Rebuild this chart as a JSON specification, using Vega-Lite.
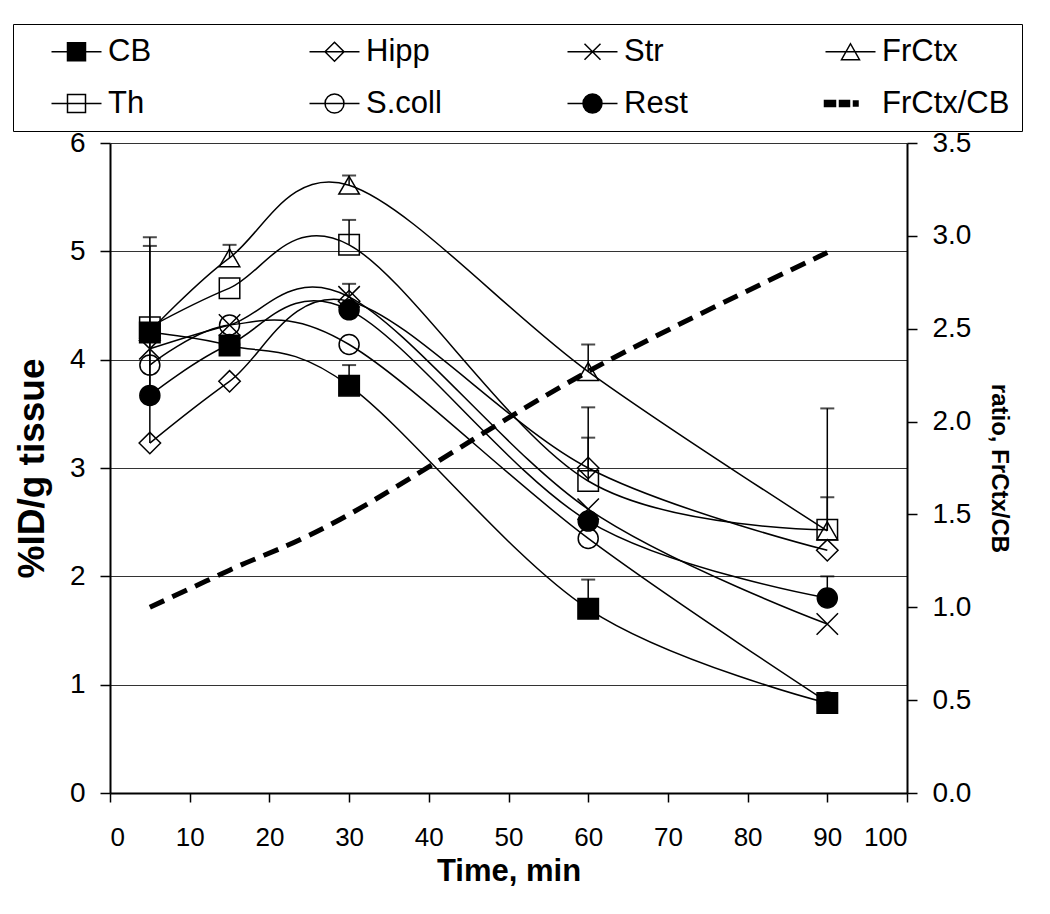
{
  "$schema": "https://vega.github.io/schema/vega-lite/v6.json",
  "width": 797,
  "height": 650,
  "autosize": {"type": "none"},
  "padding": {"left": 110, "top": 143, "right": 143, "bottom": 121},
  "background": "white",
  "config": {
    "view": {"stroke": null},
    "font": "Liberation Sans",
    "axis": {"labelColor": "black", "titleColor": "black", "domainColor": "black", "tickColor": "black", "labelFont": "Liberation Sans", "titleFont": "Liberation Sans"}
  },
  "datasets": {
    "pts": [
      {"series": "CB", "t": 5, "v": 4.25}, {"series": "CB", "t": 15, "v": 4.13}, {"series": "CB", "t": 30, "v": 3.76}, {"series": "CB", "t": 60, "v": 1.70}, {"series": "CB", "t": 90, "v": 0.83},
      {"series": "Hipp", "t": 5, "v": 3.23}, {"series": "Hipp", "t": 15, "v": 3.80}, {"series": "Hipp", "t": 30, "v": 4.54}, {"series": "Hipp", "t": 60, "v": 3.00}, {"series": "Hipp", "t": 90, "v": 2.24},
      {"series": "Str", "t": 5, "v": 4.10}, {"series": "Str", "t": 15, "v": 4.32}, {"series": "Str", "t": 30, "v": 4.58}, {"series": "Str", "t": 60, "v": 2.62}, {"series": "Str", "t": 90, "v": 1.56},
      {"series": "FrCtx", "t": 5, "v": 4.26}, {"series": "FrCtx", "t": 15, "v": 4.94}, {"series": "FrCtx", "t": 30, "v": 5.61}, {"series": "FrCtx", "t": 60, "v": 3.89}, {"series": "FrCtx", "t": 90, "v": 2.42},
      {"series": "Th", "t": 5, "v": 4.30}, {"series": "Th", "t": 15, "v": 4.66}, {"series": "Th", "t": 30, "v": 5.06}, {"series": "Th", "t": 60, "v": 2.88}, {"series": "Th", "t": 90, "v": 2.43},
      {"series": "S.coll", "t": 5, "v": 3.95}, {"series": "S.coll", "t": 15, "v": 4.32}, {"series": "S.coll", "t": 30, "v": 4.14}, {"series": "S.coll", "t": 60, "v": 2.35}, {"series": "S.coll", "t": 90, "v": 0.84},
      {"series": "Rest", "t": 5, "v": 3.67}, {"series": "Rest", "t": 15, "v": 4.14}, {"series": "Rest", "t": 30, "v": 4.46}, {"series": "Rest", "t": 60, "v": 2.51}, {"series": "Rest", "t": 90, "v": 1.80}
    ],
    "err": [
      {"series": "Hipp", "t": 5, "v": 3.23, "hi": 5.13},
      {"series": "Rest", "t": 5, "v": 3.67, "hi": 5.05},
      {"series": "FrCtx", "t": 15, "v": 4.94, "hi": 5.06},
      {"series": "FrCtx", "t": 30, "v": 5.61, "hi": 5.70},
      {"series": "Th", "t": 30, "v": 5.06, "hi": 5.29},
      {"series": "Str", "t": 30, "v": 4.58, "hi": 4.70},
      {"series": "CB", "t": 30, "v": 3.76, "hi": 3.95},
      {"series": "FrCtx", "t": 60, "v": 3.89, "hi": 4.14},
      {"series": "Hipp", "t": 60, "v": 3.00, "hi": 3.56},
      {"series": "Th", "t": 60, "v": 2.88, "hi": 3.28},
      {"series": "CB", "t": 60, "v": 1.70, "hi": 1.97},
      {"series": "Th", "t": 90, "v": 2.43, "hi": 3.55},
      {"series": "FrCtx", "t": 90, "v": 2.42, "hi": 2.73},
      {"series": "Rest", "t": 90, "v": 1.80, "hi": 2.00}
    ],
    "ratio": [
      {"t": 5, "ratio": 1.0}, {"t": 15, "ratio": 1.2}, {"t": 30, "ratio": 1.5}, {"t": 60, "ratio": 2.27}, {"t": 90, "ratio": 2.91}
    ]
  },
  "encoding": {
    "x": {
      "field": "t", "type": "quantitative",
      "scale": {"domain": [0, 100], "nice": false, "zero": true},
      "axis": {"title": "Time, min", "values": [0, 10, 20, 30, 40, 50, 60, 70, 80, 90, 100], "grid": false, "tickSize": 9, "tickWidth": 1.5, "domainWidth": 2, "labelFontSize": 26, "labelPadding": 22, "titleFontSize": 31, "titleFontWeight": "bold", "titlePadding": 6}
    }
  },
  "layer": [
    {
      "data": {"name": "pts"},
      "encoding": {
        "y": {
          "field": "v", "type": "quantitative",
          "scale": {"domain": [0, 6], "nice": false, "zero": true},
          "axis": {"orient": "left", "title": "%ID/g tissue", "values": [0, 1, 2, 3, 4, 5, 6], "grid": true, "gridColor": "#333", "gridWidth": 1, "domainWidth": 2, "tickSize": 10, "tickWidth": 1.5, "labelFontSize": 28, "labelPadding": 15, "titleFontSize": 37, "titleFontWeight": "bold", "titlePadding": 18}
        }
      },
      "layer": [
        {
          "data": {"name": "err"},
          "mark": {"type": "rule", "color": "black", "strokeWidth": 1.5},
          "encoding": {"y2": {"field": "hi"}}
        },
        {
          "data": {"name": "err"},
          "mark": {"type": "tick", "orient": "horizontal", "color": "black", "size": 14, "thickness": 2},
          "encoding": {
            "y": {
              "field": "hi", "type": "quantitative",
              "scale": {"domain": [0, 6], "nice": false, "zero": true},
              "axis": {"orient": "left", "title": "%ID/g tissue", "values": [0, 1, 2, 3, 4, 5, 6], "grid": true, "gridColor": "#333", "gridWidth": 1, "domainWidth": 2, "tickSize": 10, "tickWidth": 1.5, "labelFontSize": 28, "labelPadding": 15, "titleFontSize": 37, "titleFontWeight": "bold", "titlePadding": 18}
            }
          }
        },
        {
          "mark": {"type": "line", "interpolate": "cardinal", "color": "black", "strokeWidth": 1.5},
          "encoding": {"detail": {"field": "series", "type": "nominal"}}
        },
        {
          "transform": [{"filter": "datum.series === 'CB'"}],
          "mark": {"type": "point", "shape": "square", "filled": true, "fill": "black", "stroke": "black", "strokeWidth": 1.5, "size": 420, "opacity": 1}
        },
        {
          "transform": [{"filter": "datum.series === 'Th'"}],
          "mark": {"type": "point", "shape": "square", "filled": false, "stroke": "black", "strokeWidth": 1.5, "size": 420, "opacity": 1}
        },
        {
          "transform": [{"filter": "datum.series === 'Hipp'"}],
          "mark": {"type": "point", "shape": "diamond", "filled": false, "stroke": "black", "strokeWidth": 1.5, "size": 460, "opacity": 1}
        },
        {
          "transform": [{"filter": "datum.series === 'Str'"}],
          "mark": {"type": "point", "shape": "M-1,-1L1,1M1,-1L-1,1", "filled": false, "stroke": "black", "strokeWidth": 1.5, "size": 460, "opacity": 1}
        },
        {
          "transform": [{"filter": "datum.series === 'FrCtx'"}],
          "mark": {"type": "point", "shape": "triangle-up", "filled": false, "stroke": "black", "strokeWidth": 1.5, "size": 420, "opacity": 1}
        },
        {
          "transform": [{"filter": "datum.series === 'S.coll'"}],
          "mark": {"type": "point", "shape": "circle", "filled": false, "stroke": "black", "strokeWidth": 1.5, "size": 400, "opacity": 1}
        },
        {
          "transform": [{"filter": "datum.series === 'Rest'"}],
          "mark": {"type": "point", "shape": "circle", "filled": true, "fill": "black", "stroke": "black", "strokeWidth": 1.5, "size": 400, "opacity": 1}
        },
        {
          "mark": {"type": "point", "filled": true, "opacity": 0, "size": 400},
          "encoding": {
            "shape": {
              "field": "series", "type": "nominal",
              "scale": {
                "domain": ["CB", "Hipp", "Str", "FrCtx", "Th", "S.coll", "Rest", "FrCtx/CB"],
                "range": [
                  "M-2.5,0H2.5M-0.9,-0.9H0.9V0.9H-0.9Z",
                  "M-2.5,0H2.5M0,-0.95L0.95,0L0,0.95L-0.95,0Z",
                  "M-2.5,0H2.5M-0.8,-0.8L0.8,0.8M0.8,-0.8L-0.8,0.8",
                  "M-2.5,0H2.5M0,-0.8L0.9,0.8L-0.9,0.8Z",
                  "M-2.5,0H2.5M-0.9,-0.9H0.9V0.9H-0.9Z",
                  "M-2.5,0H2.5M-0.95,0A0.95,0.95 0 1,0 0.95,0A0.95,0.95 0 1,0 -0.95,0Z",
                  "M-2.5,0H2.5M-0.95,0A0.95,0.95 0 1,0 0.95,0A0.95,0.95 0 1,0 -0.95,0Z",
                  "M-2.6,-0.3H-1.5V0.3H-2.6ZM-1.1,-0.3H-0.1V0.3H-1.1ZM0.3,-0.25H0.75V0.25H0.3Z"
                ]
              },
              "legend": {
                "title": " ", "titleOrient": "left", "titleFontSize": 10, "titlePadding": 36,
                "orient": "none", "legendX": -97, "legendY": -119,
                "direction": "horizontal", "columns": 4, "gridAlign": "all",
                "symbolSize": 400, "symbolOpacity": 1, "symbolStrokeColor": "black",
                "labelFontSize": 31, "labelColor": "black", "labelFont": "Liberation Sans", "labelLimit": 400,
                "labelOffset": 16, "columnPadding": 69, "rowPadding": 20,
                "strokeColor": "black", "padding": 12
              }
            },
            "fill": {
              "field": "series", "type": "nominal",
              "scale": {
                "domain": ["CB", "Hipp", "Str", "FrCtx", "Th", "S.coll", "Rest", "FrCtx/CB"],
                "range": ["black", "transparent", "transparent", "transparent", "transparent", "transparent", "black", "black"]
              }
            },
            "stroke": {
              "field": "series", "type": "nominal",
              "scale": {
                "domain": ["CB", "Hipp", "Str", "FrCtx", "Th", "S.coll", "Rest", "FrCtx/CB"],
                "range": ["black", "black", "black", "black", "black", "black", "black", "black"]
              }
            },
            "strokeWidth": {
              "field": "series", "type": "nominal",
              "scale": {
                "domain": ["CB", "Hipp", "Str", "FrCtx", "Th", "S.coll", "Rest", "FrCtx/CB"],
                "range": [1.5, 1.5, 1.5, 1.5, 1.5, 1.5, 1.5, 1.5]
              }
            }
          }
        }
      ]
    },
    {
      "data": {"name": "ratio"},
      "mark": {"type": "line", "interpolate": "cardinal", "color": "black", "strokeWidth": 5, "strokeDash": [16, 9]},
      "encoding": {
        "y": {
          "field": "ratio", "type": "quantitative",
          "scale": {"domain": [0, 3.5], "nice": false, "zero": true},
          "axis": {"orient": "right", "title": "ratio, FrCtx/CB", "values": [0, 0.5, 1, 1.5, 2, 2.5, 3, 3.5], "format": ".1f", "grid": false, "domainWidth": 2, "tickSize": 10, "tickWidth": 1.5, "labelFontSize": 28, "labelPadding": 15, "titleFontSize": 24, "titleFontWeight": "bold", "titlePadding": 16}
        }
      }
    }
  ],
  "resolve": {"scale": {"y": "independent"}}
}
